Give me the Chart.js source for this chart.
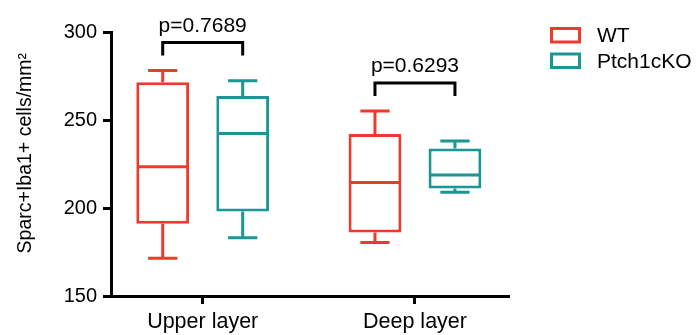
<!DOCTYPE html>
<html>
<head>
<meta charset="utf-8">
<script src="https://cdn.jsdelivr.net/npm/chart.js@4/dist/chart.umd.min.js"></script>
<style>
html, body { margin: 0; padding: 0; background: #ffffff; }
#wrap { width: 696px; height: 335px; }
</style>
</head>
<body>
<div id="wrap"><canvas id="c" width="696" height="335"></canvas></div>
<script>
// ---- Data ----
const categories = ['Upper layer', 'Deep layer'];
const seriesNames = ['WT', 'Ptch1cKO'];

const wtMin    = [171.5, 180.4];
const wtQ1     = [191.0, 186.1];
const wtMedian = [223.4, 214.5];
const wtQ3     = [271.5, 242.0];
const wtMax    = [278.1, 255.1];

const koMin    = [183.1, 209.0];
const koQ1     = [198.0, 211.1];
const koMedian = [242.3, 218.7];
const koQ3     = [263.6, 233.8];
const koMax    = [272.3, 238.0];

const pValueLabels = ['p=0.7689', 'p=0.6293'];
const yTicks = [150, 200, 250, 300];
const yAxisTitle = 'Sparc+Iba1+ cells/mm\u00B2';

// ---- Styles ----
const RED = '#EE3A2C';
const TEAL = '#1A9695';
const ARIAL = "'Liberation Sans', Arial, Helvetica, sans-serif";

const stats = [
  { min: wtMin, q1: wtQ1, med: wtMedian, q3: wtQ3, max: wtMax },
  { min: koMin, q1: koQ1, med: koMedian, q3: koQ3, max: koMax }
];

function boxData(s) {
  return categories.map((c, i) => ({ x: i, y: [s.q1[i], s.q3[i]] }));
}

const boxPlugin = {
  id: 'boxWhiskers',
  afterDatasetsDraw(chart) {
    const ctx = chart.ctx;
    const y = chart.scales.y;
    chart.data.datasets.forEach((ds, d) => {
      const meta = chart.getDatasetMeta(d);
      const s = stats[d];
      meta.data.forEach((bar, j) => {
        const half = bar.width / 2 - 1.5;
        const cap = bar.width * 0.277;
        const yMed = y.getPixelForValue(s.med[j]);
        const yQ3 = y.getPixelForValue(s.q3[j]);
        const yQ1 = y.getPixelForValue(s.q1[j]);
        const yMax = y.getPixelForValue(s.max[j]);
        const yMin = y.getPixelForValue(s.min[j]);
        ctx.save();
        ctx.strokeStyle = ds.borderColor;
        ctx.lineWidth = 3;
        ctx.lineCap = 'butt';
        ctx.beginPath();
        ctx.moveTo(bar.x - half, yMed); ctx.lineTo(bar.x + half, yMed);
        ctx.moveTo(bar.x, yQ3); ctx.lineTo(bar.x, yMax);
        ctx.moveTo(bar.x - cap, yMax); ctx.lineTo(bar.x + cap, yMax);
        ctx.moveTo(bar.x, yQ1); ctx.lineTo(bar.x, yMin);
        ctx.moveTo(bar.x - cap, yMin); ctx.lineTo(bar.x + cap, yMin);
        ctx.stroke();
        ctx.restore();
      });
    });

    // significance brackets
    const m0 = chart.getDatasetMeta(0), m1 = chart.getDatasetMeta(1);
    categories.forEach((c, j) => {
      const x1 = m0.data[j].x, x2 = m1.data[j].x;
      const top = y.getPixelForValue(Math.max(wtMax[j], koMax[j]));
      const yEnd = top - 15, yTop = top - 28;
      ctx.save();
      ctx.strokeStyle = '#000';
      ctx.lineWidth = 3;
      ctx.lineCap = 'butt';
      ctx.lineJoin = 'miter';
      ctx.beginPath();
      ctx.moveTo(x1, yEnd); ctx.lineTo(x1, yTop); ctx.lineTo(x2, yTop); ctx.lineTo(x2, yEnd);
      ctx.stroke();
      ctx.fillStyle = '#000';
      ctx.font = '21px ' + ARIAL;
      ctx.textAlign = 'center';
      ctx.textBaseline = 'alphabetic';
      ctx.fillText(pValueLabels[j], (x1 + x2) / 2, yTop - 11);
      ctx.restore();
    });

    // legend
    chart.data.datasets.forEach((ds, d) => {
      const bx = 550, by = 27 + d * 25.5;
      ctx.save();
      ctx.strokeStyle = ds.borderColor;
      ctx.lineWidth = 3;
      ctx.strokeRect(bx + 1.5, by + 1.5, 28, 13.5);
      ctx.fillStyle = '#000';
      ctx.font = '21px ' + ARIAL;
      ctx.textAlign = 'left';
      ctx.textBaseline = 'alphabetic';
      ctx.fillText(ds.label, 597, by + 15);
      ctx.restore();
    });
  }
};

const datasets = seriesNames.map((name, d) => ({
  type: 'bar',
  label: name,
  data: boxData(stats[d]),
  backgroundColor: '#ffffff',
  borderColor: d === 0 ? RED : TEAL,
  borderWidth: 3,
  borderSkipped: false,
  inflateAmount: 0,
  barPercentage: 0.66,
  categoryPercentage: 0.7536
}));

new Chart(document.getElementById('c'), {
  type: 'bar',
  data: { datasets },
  options: {
    responsive: false,
    devicePixelRatio: 1,
    animation: false,
    layout: { padding: { left: 0, top: 32, right: 187, bottom: 0 } },
    plugins: {
      legend: { display: false },
      tooltip: { enabled: false }
    },
    scales: {
      x: {
        type: 'linear',
        offset: false,
        min: -0.432,
        max: 1.443,
        afterFit(scale) { scale.height = 39; },
        afterBuildTicks(scale) { scale.ticks = categories.map((c, i) => ({ value: i })); },
        ticks: {
          callback: (v) => categories[v],
          color: '#000',
          font: { family: ARIAL, size: 21.5 },
          padding: 5,
          autoSkip: false,
          maxRotation: 0
        },
        grid: {
          display: true, drawOnChartArea: false, drawTicks: true,
          tickLength: 8, tickWidth: 3, tickColor: '#000', offset: false
        },
        border: { display: true, color: '#000', width: 3 }
      },
      y: {
        type: 'linear',
        min: 150,
        max: 300,
        afterFit(scale) { scale.width = 111; },
        afterBuildTicks(scale) { scale.ticks = yTicks.map(v => ({ value: v })); },
        ticks: {
          color: '#000',
          font: { family: ARIAL, size: 20 },
          padding: 6
        },
        grid: {
          display: true, drawOnChartArea: false, drawTicks: true,
          tickLength: 8, tickWidth: 3, tickColor: '#000'
        },
        border: { display: true, color: '#000', width: 3 },
        title: {
          display: true,
          text: '    ' + yAxisTitle,
          color: '#000',
          font: { family: ARIAL, size: 19.5 },
          padding: { top: 14, bottom: 10 }
        }
      }
    }
  },
  plugins: [boxPlugin]
});
</script>
</body>
</html>
